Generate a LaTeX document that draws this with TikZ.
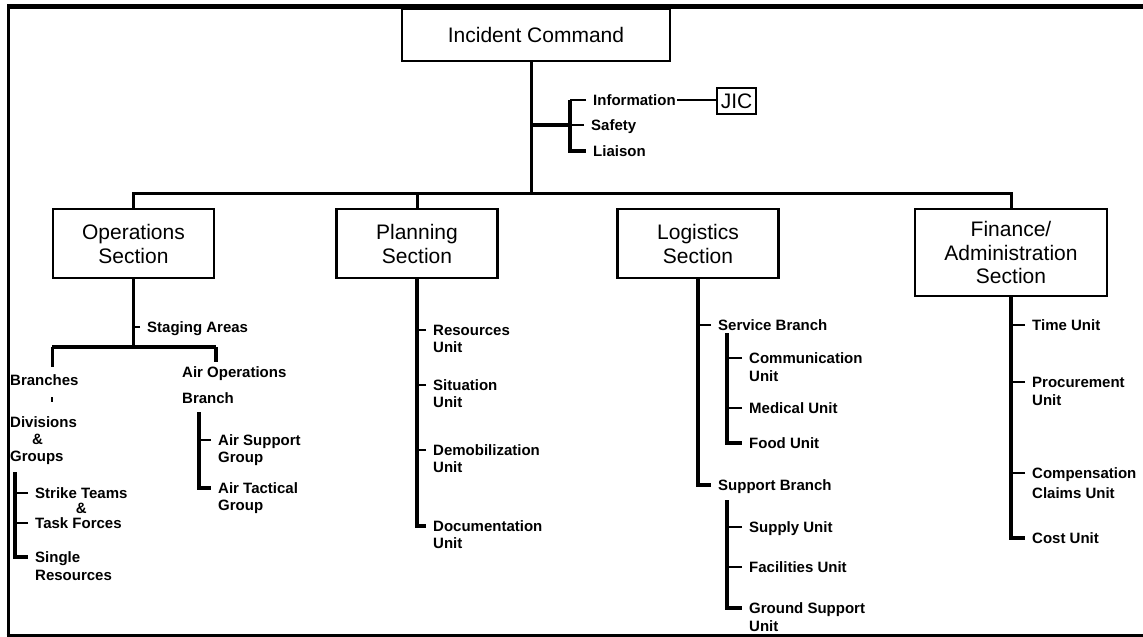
\documentclass[tikz,border=0pt]{standalone}
\usepackage{fontspec}
\setmainfont{Liberation Sans}
\begin{document}
\begin{tikzpicture}[x=1pt,y=-1pt,
  sect/.style={draw,line width=2.6pt,font=\fontsize{21}{24}\selectfont,align=center,inner sep=0pt},
  lab/.style={font=\fontsize{15}{17}\selectfont\bfseries,align=left,inner xsep=7pt,inner ysep=1pt,anchor=north west},
  conn/.style={line width=3pt},
  trunk/.style={line width=3.8pt},
  tick/.style={line width=2.6pt}]
\useasboundingbox (0,0) rectangle (1143,637);
% frame
\draw[line width=5pt] (7,6.5) -- (1143,6.5);
\draw[line width=3.4pt] (8.3,4) -- (8.3,637);
\draw[line width=3.4pt] (6.6,635.5) -- (1143,635.5);
% boxes
\node[sect,minimum width=268pt,minimum height=52pt] (ic) at (536,35) {Incident Command};
\node[draw,line width=2.2pt,minimum width=39pt,minimum height=26pt,inner sep=0pt,font=\fontsize{21}{24}\selectfont] (jic) at (736.5,101) {JIC};
\node[sect,minimum width=161pt,minimum height=69pt] (ops) at (133.5,243.5) {Operations\\Section};
\node[sect,minimum width=161pt,minimum height=69pt] (pla) at (417,243.5) {Planning\\Section};
\node[sect,minimum width=161pt,minimum height=69pt] (log) at (698,243.5) {Logistics\\Section};
\node[sect,minimum width=192pt,minimum height=87pt,font=\fontsize{21}{23.5}\selectfont] (fin) at (1011,252.5) {Finance/\\Administration\\Section};
% staff
\node[lab] (info) at (586,93.6) {Information};
\node[lab] (saf) at (584,118.6) {Safety};
\node[lab] (lia) at (586,144.6) {Liaison};
% operations
\node[lab] (stg) at (140,320.6) {Staging Areas};
\node[lab] (br) at (3,373.6) {Branches};
\node[lab] (div) at (3,415.6) {Divisions\\\hspace*{22pt}\&\\Groups};
\node[lab,align=center,font=\fontsize{15}{15}\selectfont\bfseries] (stt) at (28,486.6) {Strike Teams\\\&};
\node[lab] (tf) at (28,516.6) {Task Forces};
\node[lab,font=\fontsize{15}{18}\selectfont\bfseries] (sgl) at (28,550.6) {Single\\Resources};
\node[lab,font=\fontsize{15}{26}\selectfont\bfseries] (air) at (175,365.6) {Air Operations\\Branch};
\node[lab] (asup) at (211,433.6) {Air Support\\Group};
\node[lab] (atac) at (211,481.6) {Air Tactical\\Group};
% planning
\node[lab] (res) at (426,323.6) {Resources\\Unit};
\node[lab] (sit) at (426,378.6) {Situation\\Unit};
\node[lab] (demo) at (426,443.6) {Demobilization\\Unit};
\node[lab] (doc) at (426,519.6) {Documentation\\Unit};
% logistics
\node[lab] (svc) at (711,318.6) {Service Branch};
\node[lab,font=\fontsize{15}{18}\selectfont\bfseries] (comm) at (742,351.6) {Communication\\Unit};
\node[lab] (med) at (742,401.6) {Medical Unit};
\node[lab] (food) at (742,436.6) {Food Unit};
\node[lab] (supb) at (711,478.6) {Support Branch};
\node[lab] (supu) at (742,520.6) {Supply Unit};
\node[lab] (fac) at (742,560.6) {Facilities Unit};
\node[lab,font=\fontsize{15}{18}\selectfont\bfseries] (gsu) at (742,601.6) {Ground Support\\Unit};
% finance
\node[lab] (time) at (1025,318.6) {Time Unit};
\node[lab,font=\fontsize{15}{18}\selectfont\bfseries] (proc) at (1025,375.6) {Procurement\\Unit};
\node[lab,font=\fontsize{15}{20}\selectfont\bfseries] (comp) at (1025,466.6) {Compensation\\Claims Unit};
\node[lab] (cost) at (1025,531.6) {Cost Unit};
% tick points (middle of each label's first line)
\foreach \n in {info,saf,lia,stg,stt,tf,sgl,asup,atac,res,sit,demo,doc,svc,comm,med,food,supb,supu,fac,gsu,time,proc,comp,cost}
  \coordinate (\n-t) at ([yshift=-6.4pt]\n.north west);
% junction coordinates
\coordinate (bar) at (531,193);
\coordinate (sj) at (531,125);
\coordinate (sb) at (570,125);
\coordinate (oj) at (133,347);
\coordinate (bl) at (52,347);
\coordinate (brr) at (216,347);
\coordinate (dt) at (15,472);
\coordinate (at) at (199,412);
\coordinate (s1) at (727,333);
\coordinate (s2) at (727,500);
% top level connectors
\draw[conn] (ic.south -| bar) -- (bar);
\draw[conn] (ops.north) -- (ops.north |- bar) -- (fin.north |- bar) -- (fin.north);
\draw[conn] (pla.north |- bar) -- (pla.north);
% staff connectors
\draw[trunk] (sj) -- (sb);
\draw[trunk] (info-t -| sb) -- (sb) |- (lia-t);
\draw[tick] (info-t) -- (info-t -| sb);
\draw[tick] (saf-t) -- (saf-t -| sb);
\draw[line width=2pt,shorten <=-6pt] (info-t -| info.east) -- (info-t -| jic.west);
% operations connectors
\draw[trunk] (ops.south) -- (ops.south |- oj);
\draw[tick] (stg-t) -- (stg-t -| ops.south);
\draw[trunk] (bl) -- (brr);
\draw[conn,shorten >=6.5pt] (bl) -- (bl |- br.north);
\draw[trunk,shorten >=3.5pt] (brr) -- (brr |- air.north);
\draw[tick,shorten <=10pt,shorten >=14pt] (br.south -| bl) -- (div.north -| bl);
\draw[trunk] (dt) |- (sgl-t);
\draw[tick] (stt-t) -- (stt-t -| dt);
\draw[tick] (tf-t) -- (tf-t -| dt);
\draw[trunk] (at) |- (atac-t);
\draw[tick] (asup-t) -- (asup-t -| at);
% planning connectors
\draw[trunk] (pla.south) |- (doc-t);
\draw[tick] (res-t) -- (res-t -| pla.south);
\draw[tick] (sit-t) -- (sit-t -| pla.south);
\draw[tick] (demo-t) -- (demo-t -| pla.south);
% logistics connectors
\draw[trunk] (log.south) |- (supb-t);
\draw[tick] (svc-t) -- (svc-t -| log.south);
\draw[trunk] (s1) |- (food-t);
\draw[tick] (comm-t) -- (comm-t -| s1);
\draw[tick] (med-t) -- (med-t -| s1);
\draw[trunk] (s2) |- (gsu-t);
\draw[tick] (supu-t) -- (supu-t -| s2);
\draw[tick] (fac-t) -- (fac-t -| s2);
% finance connectors
\draw[trunk] (fin.south) |- (cost-t);
\draw[tick] (time-t) -- (time-t -| fin.south);
\draw[tick] (proc-t) -- (proc-t -| fin.south);
\draw[tick] (comp-t) -- (comp-t -| fin.south);
\end{tikzpicture}
\end{document}
